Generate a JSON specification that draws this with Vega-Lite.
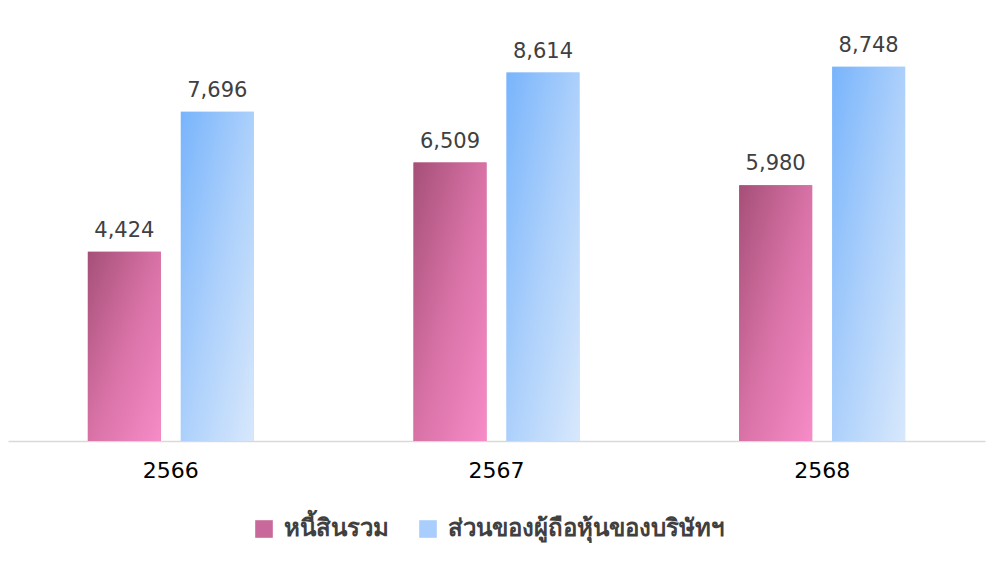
{
  "$schema": "https://vega.github.io/schema/vega-lite/v6.json",
  "width": 977,
  "height": 385,
  "autosize": "none",
  "padding": {"left": 8, "top": 56, "right": 5, "bottom": 121},
  "background": "white",
  "config": {"view": {"stroke": null}, "font": "DejaVu Sans"},
  "data": {"values": [
    {"year": "2566", "series": "หนี้สินรวม", "value": 4424},
    {"year": "2566", "series": "ส่วนของผู้ถือหุ้นของบริษัทฯ", "value": 7696},
    {"year": "2567", "series": "หนี้สินรวม", "value": 6509},
    {"year": "2567", "series": "ส่วนของผู้ถือหุ้นของบริษัทฯ", "value": 8614},
    {"year": "2568", "series": "หนี้สินรวม", "value": 5980},
    {"year": "2568", "series": "ส่วนของผู้ถือหุ้นของบริษัทฯ", "value": 8748}
  ]},
  "encoding": {
    "x": {"field": "year", "type": "nominal", "scale": {"paddingInner": 0.429, "paddingOuter": 0.2145},
      "axis": {"title": null, "labelAngle": 0, "labelFontSize": 22, "labelColor": "#000000", "labelPadding": 19, "ticks": false, "domainColor": "#d9d9d9", "domainWidth": 1.5}},
    "xOffset": {"field": "series", "type": "nominal", "sort": ["หนี้สินรวม", "ส่วนของผู้ถือหุ้นของบริษัทฯ"], "scale": {"paddingInner": 0.215, "paddingOuter": 0.1075}},
    "y": {"field": "value", "type": "quantitative", "scale": {"domain": [0, 9000]}, "axis": null}
  },
  "layer": [
    {
      "mark": {"type": "bar", "strokeWidth": 0},
      "encoding": {
        "color": {"field": "series", "type": "nominal", "sort": ["หนี้สินรวม", "ส่วนของผู้ถือหุ้นของบริษัทฯ"],
          "scale": {"domain": ["หนี้สินรวม", "ส่วนของผู้ถือหุ้นของบริษัทฯ"], "range": ["#c9689a", "#a9cdfc"]},
          "legend": {"title": null, "orient": "none", "legendX": 244, "legendY": 461, "direction": "horizontal", "symbolType": "square", "symbolSize": 310, "symbolStrokeWidth": 0, "labelFontSize": 24, "labelFontWeight": "bold", "labelColor": "#404040", "labelLimit": 400, "columnPadding": 27, "labelOffset": 8,
            "encode": {"symbols": {"update": {"fill": [
              {"test": "datum.value === 'หนี้สินรวม'", "value": {"gradient": "linear", "x1": 0, "y1": 0, "x2": 1, "y2": 1, "stops": [{"offset": 0, "color": "#a54f78"}, {"offset": 1, "color": "#f78cc8"}]}},
              {"value": {"gradient": "linear", "x1": 0, "y1": 0, "x2": 1, "y2": 1, "stops": [{"offset": 0, "color": "#78b4fc"}, {"offset": 1, "color": "#d8e8fc"}]}}
            ], "fillOpacity": {"value": 1}, "strokeWidth": {"value": 0}}}}}
        }
      }
    },
    {
      "mark": {"type": "bar", "strokeWidth": 0},
      "encoding": {
        "color": {
          "condition": {"test": "datum.series === 'หนี้สินรวม'", "value": {"gradient": "linear", "x1": 0, "y1": 0, "x2": 1, "y2": 1, "stops": [{"offset": 0, "color": "#a54f78"}, {"offset": 0.5, "color": "#d872a6"}, {"offset": 1, "color": "#f78cc8"}]}},
          "value": {"gradient": "linear", "x1": 0, "y1": 0, "x2": 1, "y2": 1, "stops": [{"offset": 0, "color": "#78b4fc"}, {"offset": 0.5, "color": "#acd0fb"}, {"offset": 1, "color": "#d8e8fc"}]}
        }
      }
    },
    {
      "mark": {"type": "text", "baseline": "bottom", "dy": -11, "fontSize": 21, "color": "#404040"},
      "encoding": {"text": {"field": "value", "type": "quantitative", "format": ","}}
    }
  ]
}
